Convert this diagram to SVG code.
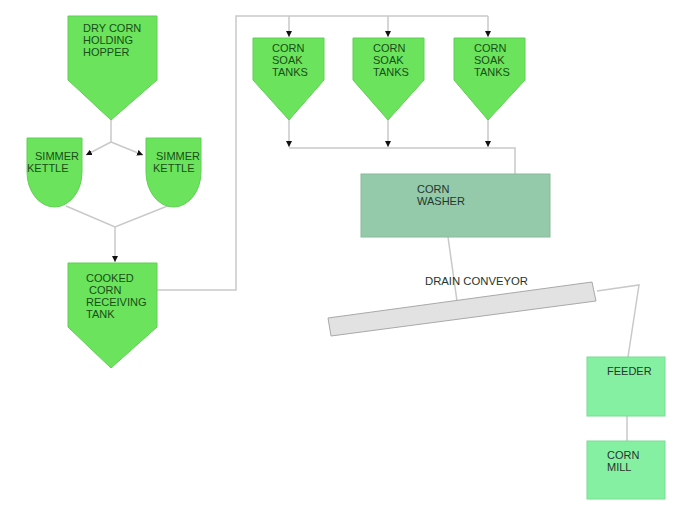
<svg xmlns="http://www.w3.org/2000/svg" width="682" height="514" viewBox="0 0 682 514">
<style>
.tank{fill:#6be35c;stroke:#5fd052;stroke-width:1}
.t{font-family:"Liberation Sans",Arial,sans-serif;font-size:11px;fill:#174f17}
.t2{font-family:"Liberation Sans",Arial,sans-serif;font-size:11px;fill:#26362c}
.ln{fill:none;stroke:#c9c9c9;stroke-width:1.5}
</style>
<defs>
<marker id="ah" viewBox="0 0 10 10" refX="10" refY="5" markerWidth="6" markerHeight="6" markerUnits="userSpaceOnUse" orient="auto">
<path d="M0,0 L10,5 L0,10 Z" fill="#111"/>
</marker>
</defs>
<rect width="682" height="514" fill="#fff"/>
<g id="connectors">
<path class="ln" d="M111,120 V142"/>
<path class="ln" d="M111,142 L86,155" marker-end="url(#ah)"/>
<path class="ln" d="M111,142 L143,155" marker-end="url(#ah)"/>
<path class="ln" d="M66,206 L115,227 L170,205"/>
<path class="ln" d="M115,227 V262" marker-end="url(#ah)"/>
<path class="ln" d="M157,290 H236 V16 H488"/>
<path class="ln" d="M289,16 V37" marker-end="url(#ah)"/>
<path class="ln" d="M388,16 V37" marker-end="url(#ah)"/>
<path class="ln" d="M488,16 V37" marker-end="url(#ah)"/>
<path class="ln" d="M289,120 V147" marker-end="url(#ah)"/>
<path class="ln" d="M388,120 V147" marker-end="url(#ah)"/>
<path class="ln" d="M488,120 V147" marker-end="url(#ah)"/>
<path class="ln" d="M289,148 H515 V174"/>
<path class="ln" d="M448,237 L457,301"/>
<path class="ln" d="M597,291 L639,285 L628,357"/>
<path class="ln" d="M627,416 V441"/>
</g>
<g id="hopper">
<polygon class="tank" points="68,16 157,16 157,80 111,120 68,80"/>
<text class="t" x="83" y="32">DRY CORN</text>
<text class="t" x="83" y="44">HOLDING</text>
<text class="t" x="83" y="56">HOPPER</text>
</g>
<g id="kettle1">
<path class="tank" d="M27,138 H82 V172 A27.5,35 0 0 1 54.5,207 A27.5,35 0 0 1 27,172 Z"/>
<text class="t" x="35" y="160">SIMMER</text>
<text class="t" x="27" y="172">KETTLE</text>
</g>
<g id="kettle2">
<path class="tank" d="M146,138 H201 V172 A27.5,35 0 0 1 173.5,207 A27.5,35 0 0 1 146,172 Z"/>
<text class="t" x="156" y="160">SIMMER</text>
<text class="t" x="153" y="172">KETTLE</text>
</g>
<g id="cooked">
<polygon class="tank" points="68,263 157,263 157,327 111,368 68,327"/>
<text class="t" x="86" y="282">COOKED</text>
<text class="t" x="89" y="294">CORN</text>
<text class="t" x="86" y="306">RECEIVING</text>
<text class="t" x="86" y="318">TANK</text>
</g>
<g id="soak1">
<polygon class="tank" points="253,38 324,38 324,80 289,120 253,80"/>
<text class="t" x="272" y="52">CORN</text>
<text class="t" x="272" y="64">SOAK</text>
<text class="t" x="272" y="76">TANKS</text>
</g>
<g id="soak2">
<polygon class="tank" points="353,38 424,38 424,80 388,120 353,80"/>
<text class="t" x="373" y="52">CORN</text>
<text class="t" x="373" y="64">SOAK</text>
<text class="t" x="373" y="76">TANKS</text>
</g>
<g id="soak3">
<polygon class="tank" points="454,38 525,38 525,80 488,120 454,80"/>
<text class="t" x="474" y="52">CORN</text>
<text class="t" x="474" y="64">SOAK</text>
<text class="t" x="474" y="76">TANKS</text>
</g>
<g id="washer">
<rect x="361" y="174" width="189" height="63" fill="#94c9a9" stroke="#88bb9c" stroke-width="1"/>
<text class="t2" x="417" y="193">CORN</text>
<text class="t2" x="417" y="205">WASHER</text>
</g>
<g id="conveyor">
<polygon points="328,318 592,282 596,301 331,336" fill="#e2e2e2" stroke="#a8a8a8" stroke-width="1"/>
<text class="t2" x="425" y="285" style="font-size:11.3px">DRAIN CONVEYOR</text>
</g>
<g id="feeder">
<rect x="587" y="357" width="78" height="59" fill="#86f0a2" stroke="#78dc92" stroke-width="1"/>
<text class="t2" x="607" y="375">FEEDER</text>
</g>
<g id="mill">
<rect x="587" y="441" width="78" height="58" fill="#86f0a2" stroke="#78dc92" stroke-width="1"/>
<text class="t2" x="607" y="459">CORN</text>
<text class="t2" x="607" y="471">MILL</text>
</g>
</svg>
